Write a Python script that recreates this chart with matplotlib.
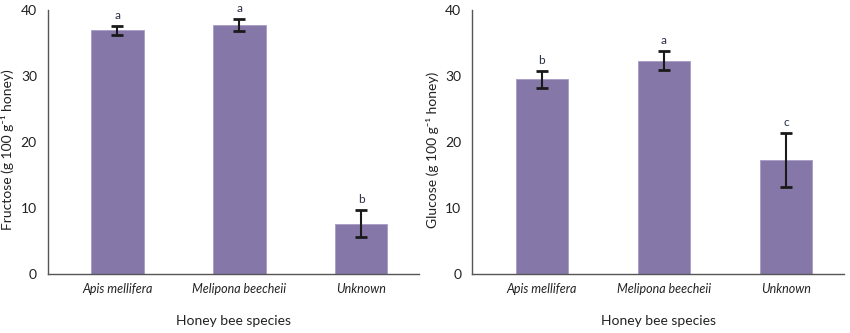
import matplotlib
matplotlib.use("Agg")
import matplotlib.pyplot as plt

species = ["Apis mellifera", "Melipona beecheii", "Unknown"]
fructose = [36.9, 37.7, 7.6]
fructose_err = [0.7, 0.9, 2.0]
fructose_letters = ["a", "a", "b"]
glucose = [29.5, 32.3, 17.2]
glucose_err = [1.3, 1.45, 4.1]
glucose_letters = ["b", "a", "c"]
yticks = [0, 10, 20, 30, 40]

plt.rcParams['font.family'] = ['Lato', 'DejaVu Sans']

BAR = '#8577a8'
fig = plt.figure(figsize=(8.5, 3.33), dpi=100)

panels = [
    (fructose, fructose_err, fructose_letters, "Fructose (g 100 g\u207b\u00b9 honey)", [0.0565, 0.178, 0.4365, 0.792], -0.092),
    (glucose, glucose_err, glucose_letters, "Glucose (g 100 g\u207b\u00b9 honey)", [0.5557, 0.178, 0.4373, 0.792], -0.089),
]

for vals, errs, letters, ylabel, pos, lx in panels:
    ax = fig.add_axes(pos)
    x = list(range(len(species)))
    ax.bar(x, vals, width=0.43, color=BAR, edgecolor='#a89cc6', linewidth=0.6, zorder=2)
    ax.errorbar(x, vals, yerr=errs, fmt='none', ecolor='#1a1a1a', elinewidth=1.5,
                capsize=4.5, capthick=2.0, zorder=3)
    for xi, v, e, l in zip(x, vals, errs, letters):
        ax.annotate(l, (xi, v + e), xytext=(0, 5), textcoords='offset points',
                    ha='center', va='baseline', fontsize=8.5, color='#2a2f45')
    ax.set_xlim(-0.57, 2.475)
    ax.set_ylim(0, 40)
    ax.set_yticks(yticks)
    ax.set_xticks(x)
    ax.set_xticklabels(species, fontstyle='italic', fontsize=9, color='#222222')
    ax.tick_params(axis='y', length=0, pad=8, labelsize=10, labelcolor='#222222')
    ax.tick_params(axis='x', length=0, pad=7)
    for s in ['top', 'right']:
        ax.spines[s].set_visible(False)
    for s in ['left', 'bottom']:
        ax.spines[s].set_color('#555555')
        ax.spines[s].set_linewidth(1.0)
    ax.set_ylabel(ylabel, fontsize=10, color='#222222')
    ax.yaxis.set_label_coords(lx, 0.47)
    ax.set_xlabel("Honey bee species", fontsize=10, color='#222222', labelpad=14)

fig.savefig("out.png", dpi=100)
